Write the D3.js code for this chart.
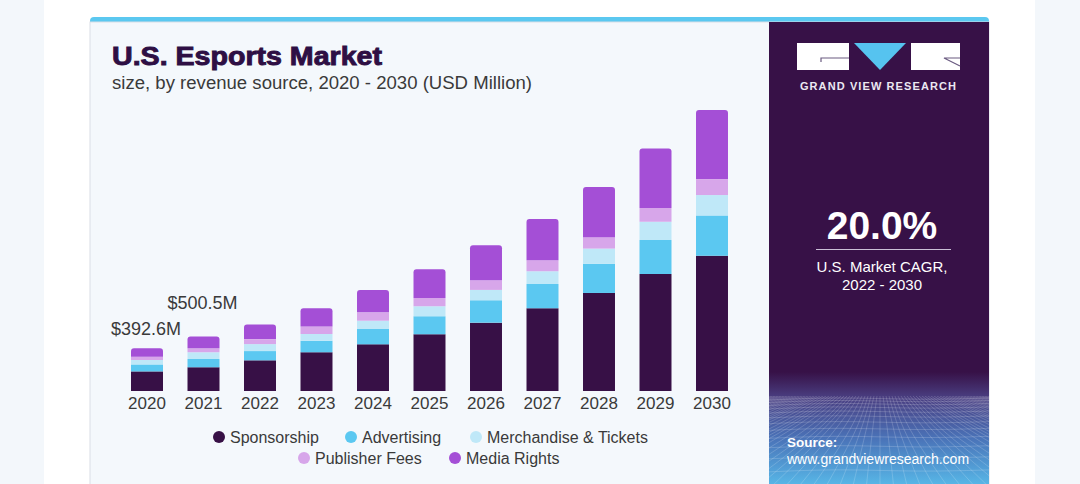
<!DOCTYPE html>
<html>
<head>
<meta charset="utf-8">
<script src="https://cdn.jsdelivr.net/npm/d3@7/dist/d3.min.js"></script>
<style>
  html, body { margin: 0; padding: 0; background: #f3f7fb; }
  svg { display: block; font-family: "Liberation Sans", Arial, sans-serif; }
</style>
</head>
<body>
<svg id="chart" width="1080" height="484"></svg>
<script>
// ---- data ----
const years = ["2020","2021","2022","2023","2024","2025","2026","2027","2028","2029","2030"];
const seriesNames = ["Sponsorship","Advertising","Merchandise & Tickets","Publisher Fees","Media Rights"];
const sponsorship  = [180, 218, 282, 356, 429, 521, 628, 760, 901, 1075, 1243];
const advertising  = [64, 76, 85, 107, 141, 165, 206, 223, 267, 312, 371];
const merchandise  = [41, 62, 64, 62, 76, 92, 95, 117, 141, 168, 187];
const publisherFees= [30, 37, 46, 67, 77, 76, 89, 101, 105, 126, 147];
const mediaRights  = [77.6, 107.5, 135, 169, 205, 264, 322, 380, 462, 549, 634];
const seriesColors = ["#371046", "#5bc8f1", "#bfe8f8", "#d7a6ea", "#a44fd6"];
const annotations = [{year: "2020", text: "$392.6M"}, {year: "2021", text: "$500.5M"}];
const titleText = "U.S. Esports Market";
const subtitleText = "size, by revenue source, 2020 - 2030 (USD Million)";
const cagrValue = "20.0%";
const cagrLabel = ["U.S. Market CAGR,", "2022 - 2030"];

const svg = d3.select("#chart");

// ---- background / card ----
svg.append("rect").attr("x", 0).attr("y", 0).attr("width", 1080).attr("height", 484).attr("fill", "#f3f7fb");
svg.append("rect").attr("x", 44).attr("y", 0).attr("width", 991).attr("height", 484).attr("fill", "#ffffff");

const P = {x: 90, y: 17, w: 899, h: 480};
svg.append("rect").attr("x", P.x).attr("y", P.y).attr("width", P.w).attr("height", 14)
  .attr("rx", 4).attr("fill", "#5bc8f0");
svg.append("rect").attr("x", P.x).attr("y", P.y + 5).attr("width", P.w).attr("height", P.h)
  .attr("fill", "#f4f8fc").attr("stroke", "#d9dee5").attr("stroke-width", 1);

// ---- right dark panel ----
const R = {x: 769, y: 22, w: 220, h: 470};
const defs = svg.append("defs");
const grad = defs.append("linearGradient").attr("id", "bottomGrad")
  .attr("x1", 0).attr("y1", 0).attr("x2", 0).attr("y2", 1);
grad.append("stop").attr("offset", "0%").attr("stop-color", "#4a3f82");
grad.append("stop").attr("offset", "45%").attr("stop-color", "#4a73b8");
grad.append("stop").attr("offset", "100%").attr("stop-color", "#58bbea");
const fade = defs.append("linearGradient").attr("id", "fadeGrad")
  .attr("x1", 0).attr("y1", 0).attr("x2", 0).attr("y2", 1);
fade.append("stop").attr("offset", "0%").attr("stop-color", "#371147").attr("stop-opacity", 1);
fade.append("stop").attr("offset", "100%").attr("stop-color", "#4a3f82").attr("stop-opacity", 1);

svg.append("rect").attr("x", R.x).attr("y", R.y).attr("width", R.w).attr("height", R.h).attr("fill", "#371147");
svg.append("rect").attr("x", R.x).attr("y", 372).attr("width", R.w).attr("height", 26).attr("fill", "url(#fadeGrad)");
svg.append("rect").attr("x", R.x).attr("y", 398).attr("width", R.w).attr("height", 90).attr("fill", "url(#bottomGrad)");

// perspective grid in bottom area
defs.append("clipPath").attr("id", "gridClip").append("rect")
  .attr("x", R.x).attr("y", 396).attr("width", R.w).attr("height", 90);
const grid = svg.append("g").attr("clip-path", "url(#gridClip)")
  .attr("stroke", "#ffffff").attr("stroke-opacity", 0.22).attr("stroke-width", 0.8).attr("fill", "none");
const vx = 880;
d3.range(-40, 41).forEach(k => {
  const bx = vx + k * 14;
  grid.append("path").attr("d", d3.line().curve(d3.curveBasis)([[vx + k * 3, 396], [vx + k * 6 + Math.sin(k) * 2, 430], [bx, 490]]));
});
let hy = 398, dh = 2.5;
while (hy < 490) {
  grid.append("path").attr("d", d3.line().curve(d3.curveBasis)([[R.x, hy + 2], [R.x + 70, hy - 1], [R.x + 150, hy + 2], [R.x + R.w, hy]]));
  hy += dh; dh *= 1.18;
}

// ---- logo ----
const logo = svg.append("g");
logo.append("rect").attr("x", 797).attr("y", 43).attr("width", 52).attr("height", 27).attr("fill", "#ffffff");
logo.append("path").attr("d", "M 854 43 L 906 43 L 880 70 Z").attr("fill", "#56c3ef");
logo.append("rect").attr("x", 911).attr("y", 43).attr("width", 49).attr("height", 27).attr("fill", "#ffffff");
logo.append("path").attr("d", "M 849 58 L 821 58 L 821 62").attr("stroke", "#6a5a80").attr("stroke-width", 1.2).attr("fill", "none");
logo.append("path").attr("d", "M 960 58 L 944 58 L 960 66").attr("stroke", "#6a5a80").attr("stroke-width", 1.2).attr("fill", "none");
svg.append("text").attr("x", 878.5).attr("y", 90).attr("text-anchor", "middle")
  .attr("font-size", 11).attr("font-weight", "bold").attr("letter-spacing", 1.1)
  .attr("fill", "#ece8f2").text("GRAND VIEW RESEARCH");

// CAGR
svg.append("text").attr("x", 882).attr("y", 239).attr("text-anchor", "middle")
  .attr("font-size", 39).attr("font-weight", "bold").attr("fill", "#ffffff").text(cagrValue);
svg.append("line").attr("x1", 816).attr("x2", 951).attr("y1", 249.5).attr("y2", 249.5)
  .attr("stroke", "#c9bfd6").attr("stroke-width", 1.2);
cagrLabel.forEach((t, i) => {
  svg.append("text").attr("x", 882).attr("y", 272 + i * 17.5).attr("text-anchor", "middle")
    .attr("font-size", 15).attr("fill", "#ffffff").text(t);
});
svg.append("text").attr("x", 787).attr("y", 446.5).attr("font-size", 13.5).attr("font-weight", "bold")
  .attr("fill", "#ffffff").text("Source:");
svg.append("text").attr("x", 787).attr("y", 463.5).attr("font-size", 14).attr("fill", "#ffffff")
  .text("www.grandviewresearch.com");

// ---- title ----
svg.append("text").attr("x", 112).attr("y", 65).attr("font-size", 25).attr("font-weight", "bold")
  .attr("fill", "#2e0f44").attr("stroke", "#2e0f44").attr("stroke-width", 0.9)
  .attr("textLength", 270).attr("lengthAdjust", "spacingAndGlyphs").text(titleText);
svg.append("text").attr("x", 112).attr("y", 89).attr("font-size", 17.5).attr("fill", "#3a3a3a")
  .attr("textLength", 420).attr("lengthAdjust", "spacingAndGlyphs").text(subtitleText);

// ---- chart ----
const table = years.map((y, i) => ({
  year: y,
  "Sponsorship": sponsorship[i],
  "Advertising": advertising[i],
  "Merchandise & Tickets": merchandise[i],
  "Publisher Fees": publisherFees[i],
  "Media Rights": mediaRights[i]
}));
const stacked = d3.stack().keys(seriesNames)(table);
const color = d3.scaleOrdinal().domain(seriesNames).range(seriesColors);

const x = d3.scaleBand().domain(years).range([118.75, 740.25]).paddingInner(0.434).paddingOuter(0.217);
const y = d3.scaleLinear().domain([0, 2600]).range([391, 391 - 2600 * 0.1088]);

const barsG = svg.append("g");
stacked.forEach((layer, li) => {
  const isTop = li === stacked.length - 1;
  barsG.append("g").attr("fill", color(layer.key))
    .selectAll("path").data(layer).join("path")
    .attr("d", d => {
      const x0 = x(d.data.year), w = x.bandwidth();
      const yt = y(d[1]), yb = y(d[0]);
      if (!isTop) return `M${x0},${yb}V${yt}H${x0 + w}V${yb}Z`;
      const r = 3;
      return `M${x0},${yb}V${yt + r}Q${x0},${yt} ${x0 + r},${yt}H${x0 + w - r}Q${x0 + w},${yt} ${x0 + w},${yt + r}V${yb}Z`;
    });
});

// year axis
const xAxis = svg.append("g").attr("transform", "translate(0,391)")
  .call(d3.axisBottom(x).tickSize(0).tickPadding(6));
xAxis.select(".domain").remove();
xAxis.selectAll("text").attr("font-size", 17).attr("fill", "#3a3a3a")
  .attr("font-family", "'Liberation Sans', Arial, sans-serif").attr("dy", "0.71em");

// total annotations
const totals = new Map(table.map(d => [d.year, d3.sum(seriesNames, k => d[k])]));
const annOffsets = [13, 28];
annotations.forEach((a, i) => {
  svg.append("text").attr("x", x(a.year) - 20).attr("y", y(totals.get(a.year)) - annOffsets[i])
    .attr("font-size", 18).attr("fill", "#3a3a3a").text(a.text);
});

// ---- legend ----
const legendRows = [
  [{k: "Sponsorship", cx: 219}, {k: "Advertising", cx: 351}, {k: "Merchandise & Tickets", cx: 476}],
  [{k: "Publisher Fees", cx: 304}, {k: "Media Rights", cx: 455}]
];
const legendY = [437, 458];
legendRows.forEach((row, ri) => {
  row.forEach(item => {
    const g = svg.append("g");
    g.append("circle").attr("cx", item.cx).attr("cy", legendY[ri]).attr("r", 6).attr("fill", color(item.k));
    g.append("text").attr("x", item.cx + 11).attr("y", legendY[ri] + 5.5)
      .attr("font-size", 16).attr("fill", "#3a3a3a").text(item.k);
  });
});
</script>
</body>
</html>
